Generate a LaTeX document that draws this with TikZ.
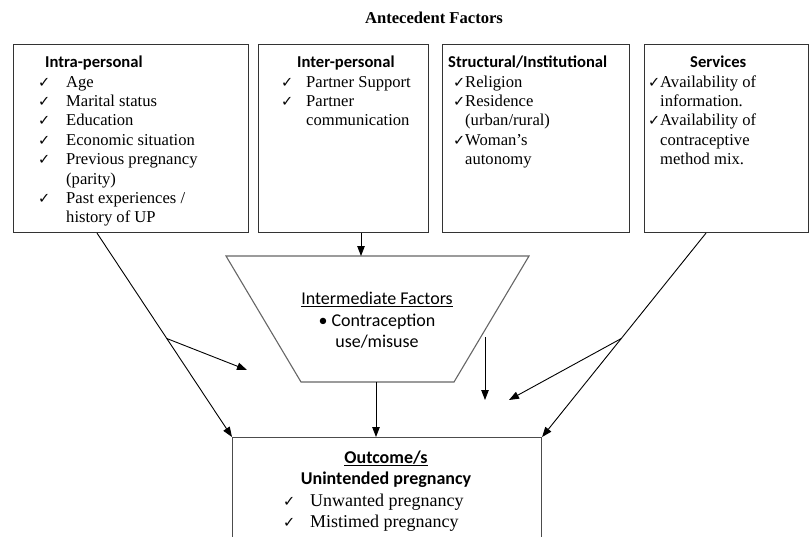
\documentclass[tikz,border=0pt]{standalone}
\usepackage{fontspec}
\setmainfont{Liberation Serif}
\newfontfamily\hdfont{Carlito}
\newfontfamily\ckfont{DejaVu Sans}
\usepackage{tikz}
\usetikzlibrary{arrows.meta, positioning, calc}

\newcommand{\ck}[1][28pt]{\makebox[#1][l]{\ckfont\fontsize{14.5}{14.5}\selectfont ✓}}
\newcommand{\hd}[1]{{\hdfont\bfseries #1}}

\begin{document}
\begin{tikzpicture}[x=1pt, y=-1pt,
    factbox/.style={draw=black!80, line width=1.1pt, minimum width=#1, minimum height=188pt,
                    anchor=north west, inner sep=0pt},
    lst/.style={anchor=north west, inner sep=0pt, font=\fontsize{16.6}{19.4}\selectfont},
    arr/.style={-{Triangle[length=10pt, width=7.5pt]}, line width=0.9pt},
    trap/.style={draw=black!60, line width=1.1pt}
]
\useasboundingbox (0,0) rectangle (810,537);
\clip (0,0) rectangle (810,537);

\node[font=\fontsize{16.6}{19.4}\selectfont\bfseries, anchor=base] (title) at (434,23.5) {Antecedent Factors};

% antecedent boxes
\node[factbox=235pt] (intra) at (13,44) {};
\node[factbox=170pt] (inter) at (258,44) {};
\node[factbox=187pt] (struct) at (442,44) {};
\node[factbox=164pt] (serv) at (644,44) {};

\node[lst] (intraT) at (38,54) {\begin{tabular}{@{}l@{}l@{}}
  \multicolumn{2}{@{\hspace{7pt}}l@{}}{\hd{Intra-personal}}\\
  \ck & Age\\
  \ck & Marital status\\
  \ck & Education\\
  \ck & Economic situation\\
  \ck & Previous pregnancy\\
      & (parity)\\
  \ck & Past experiences /\\
      & history of UP
\end{tabular}};

\node[lst] (interT) at (281,54) {\begin{tabular}{@{}l@{}l@{}}
  \multicolumn{2}{@{\hspace{16pt}}l@{}}{\hd{Inter-personal}}\\
  \ck[25pt] & Partner Support\\
  \ck[25pt] & Partner\\
            & communication
\end{tabular}};

\node[lst] (structT) at (448,54) {\begin{tabular}{@{}l@{}l@{}}
  \multicolumn{2}{@{}l@{}}{\hd{Structural/Institutional}}\\
  \hspace{5pt}\ck[12pt] & Religion\\
  \hspace{5pt}\ck[12pt] & Residence\\
                        & (urban/rural)\\
  \hspace{5pt}\ck[12pt] & Woman’s\\
                        & autonomy
\end{tabular}};

\node[lst] (servT) at (648,54) {\begin{tabular}{@{}l@{}l@{}}
  \multicolumn{2}{@{\hspace{42pt}}l@{}}{\hd{Services}}\\
  \ck[12pt] & Availability of\\
            & information.\\
  \ck[12pt] & Availability of\\
            & contraceptive\\
            & method mix.
\end{tabular}};

% intermediate factors
\coordinate (tl) at (226,256);
\coordinate (tr) at (529,256);
\coordinate (br) at (454,382);
\coordinate (bl) at (301,382);
\draw[trap] (tl) -- (tr) -- (br) -- (bl) -- cycle;
\node[font=\hdfont\fontsize{18}{21.5}\selectfont, anchor=north, inner sep=0pt] (mid) at (377,289.5)
  {\begin{tabular}{@{}c@{}}\underline{Intermediate Factors}\\ \textbullet\ Contraception\\ use/misuse\end{tabular}};

% outcome
\node[draw=black!70, line width=1.1pt, minimum width=309pt, minimum height=140pt,
      anchor=north west, inner sep=0pt] (out) at (232,437) {};
\node[font=\hdfont\bfseries\fontsize{18}{21}\selectfont, anchor=north, inner sep=0pt] (outH) at (386,448.3)
  {\begin{tabular}{@{}c@{}}\underline{Outcome/s}\\ Unintended pregnancy\end{tabular}};
\node[lst, font=\fontsize{18}{21}\selectfont] (outT) at (283,491.3) {\begin{tabular}{@{}l@{}l@{}}
  \ck[27pt] & Unwanted pregnancy\\
  \ck[27pt] & Mistimed pregnancy
\end{tabular}};

% connectors
\coordinate (tIn) at (361,256);
\coordinate (trapB) at (376,382);
\coordinate (lArr) at (247,370);
\coordinate (dTop) at (485,337);
\coordinate (dBot) at (485,400);
\coordinate (rArr) at (509,400);

\draw[arr] (inter.south -| tIn) -- (tIn);
\draw[arr] ([xshift=84pt]intra.south west) -- (out.north west);
\draw[arr] ($([xshift=84pt]intra.south west)!0.517!(out.north west)$) -- (lArr);
\draw[arr] (trapB) -- (trapB |- out.north);
\draw[arr] (dTop) -- (dBot);
\draw[arr] ([xshift=62pt]serv.south west) -- (out.north east);
\draw[arr] ($([xshift=62pt]serv.south west)!0.517!(out.north east)$) -- (rArr);
\end{tikzpicture}
\end{document}
